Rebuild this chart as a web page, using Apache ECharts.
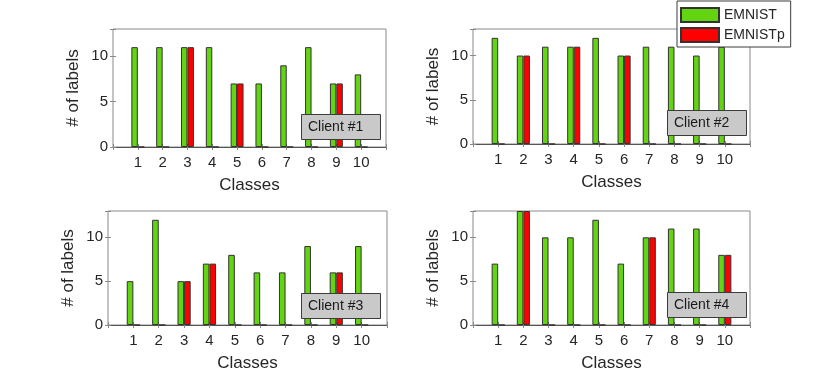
<!DOCTYPE html>
<html>
<head>
<meta charset="utf-8">
<script src="https://cdn.jsdelivr.net/npm/echarts@6/dist/echarts.min.js"></script>
<style>
  html, body { margin: 0; padding: 0; background: #fff; }
  #main { width: 830px; height: 385px; }
</style>
</head>
<body>
<div id="main"></div>
<script>
// data
var classes = [1, 2, 3, 4, 5, 6, 7, 8, 9, 10];
var clientNames = ["Client #1", "Client #2", "Client #3", "Client #4"];
var emnist1 = [11, 11, 11, 11, 7, 7, 9, 11, 7, 8];
var emnistp1 = [0, 0, 11, 0, 7, 0, 0, 0, 7, 0];
var emnist2 = [12, 10, 11, 11, 12, 10, 11, 11, 10, 11];
var emnistp2 = [0, 10, 0, 11, 0, 10, 0, 0, 0, 0];
var emnist3 = [5, 12, 5, 7, 8, 6, 6, 9, 6, 9];
var emnistp3 = [0, 0, 5, 7, 0, 0, 0, 0, 6, 0];
var emnist4 = [7, 13, 10, 10, 12, 7, 10, 11, 11, 8];
var emnistp4 = [0, 13, 0, 0, 0, 0, 10, 0, 0, 8];
var yTicks = [0, 5, 10];

var emnistAll = [emnist1, emnist2, emnist3, emnist4];
var emnistpAll = [emnistp1, emnistp2, emnistp3, emnistp4];

var myChart = echarts.init(document.getElementById("main"));

var textColor = "#262626";
var boxColor = "#8a8a8a";
var font = "Liberation Sans, Arial, Helvetica, sans-serif";

// grid boxes (left, top, right, bottom in px)
var boxes = [
  { left: 113, top: 29, right: 386, bottom: 147 },
  { left: 473, top: 29, right: 750, bottom: 144 },
  { left: 108, top: 211, right: 387, bottom: 325 },
  { left: 473, top: 211, right: 750, bottom: 325 }
];
// "Client #n" boxes
var tags = [
  { left: 301, top: 114 },
  { left: 667, top: 110 },
  { left: 301, top: 293 },
  { left: 667, top: 292 }
];

var grids = [], xAxes = [], yAxes = [], series = [], titles = [];

boxes.forEach(function(b, i) {
  grids.push({
    left: b.left,
    top: b.top,
    width: b.right - b.left,
    height: b.bottom - b.top,
    show: true,
    borderColor: boxColor,
    borderWidth: 1,
    backgroundColor: "transparent"
  });
  // bottom x axis with labels
  xAxes.push({
    gridIndex: i,
    type: "value",
    min: 0,
    max: 11,
    interval: 1,
    position: "bottom",
    name: "Classes",
    nameLocation: "middle",
    nameGap: 30,
    nameTextStyle: { color: textColor, fontSize: 17, fontFamily: font },
    axisLine: { show: true, onZero: false, lineStyle: { color: "#555" } },
    axisTick: { inside: true, length: 3, lineStyle: { color: boxColor } },
    axisLabel: {
      color: textColor,
      fontSize: 15,
      fontFamily: font,
      margin: 8,
      formatter: function(v) {
        return classes.indexOf(v) >= 0 ? String(v) : "";
      }
    },
    splitLine: { show: false }
  });
  // top x axis, ticks only
  xAxes.push({
    gridIndex: i,
    type: "value",
    min: 0,
    max: 11,
    interval: 1,
    position: "top",
    axisLine: { show: false },
    axisTick: { inside: true, length: 3, lineStyle: { color: boxColor } },
    axisLabel: { show: false },
    splitLine: { show: false }
  });
  yAxes.push({
    gridIndex: i,
    type: "value",
    min: 0,
    max: 13,
    interval: 5,
    position: "left",
    name: "# of labels",
    nameLocation: "middle",
    nameGap: 31,
    nameTextStyle: { color: textColor, fontSize: 17, fontFamily: font },
    axisLine: { show: false },
    axisTick: { inside: true, length: 3, lineStyle: { color: boxColor } },
    axisLabel: {
      color: textColor,
      fontSize: 15,
      fontFamily: font,
      margin: 5,
      formatter: function(v) {
        return yTicks.indexOf(v) >= 0 ? String(v) : "";
      }
    },
    splitLine: { show: false }
  });
  yAxes.push({
    gridIndex: i,
    type: "value",
    min: 0,
    max: 13,
    interval: 5,
    position: "right",
    axisLine: { show: false },
    axisTick: { inside: true, length: 3, lineStyle: { color: boxColor } },
    axisLabel: { show: false },
    splitLine: { show: false }
  });

  series.push({
    name: "EMNIST",
    type: "bar",
    xAxisIndex: i * 2,
    yAxisIndex: i * 2,
    barWidth: "26%",
    barGap: "0%",
    itemStyle: { color: "#63d412", borderColor: "#333", borderWidth: 1 },
    data: classes.map(function(c, k) { return [c, emnistAll[i][k]]; })
  });
  series.push({
    name: "EMNISTp",
    type: "bar",
    xAxisIndex: i * 2,
    yAxisIndex: i * 2,
    barWidth: "26%",
    barGap: "0%",
    itemStyle: { color: "#ff0000", borderColor: "#333", borderWidth: 1 },
    data: classes.map(function(c, k) { return [c, emnistpAll[i][k]]; })
  });

  titles.push({
    text: clientNames[i],
    left: tags[i].left,
    top: tags[i].top,
    padding: [6, 17, 6, 7],
    backgroundColor: "#c9c9c9",
    borderColor: "#3c3c3c",
    borderWidth: 1,
    textStyle: { color: "#1a1a1a", fontSize: 14, fontWeight: "normal", fontFamily: font }
  });
});

myChart.setOption({
  animation: false,
  title: titles,
  legend: {
    data: ["EMNIST", "EMNISTp"],
    orient: "vertical",
    left: 677,
    top: 1,
    padding: [6, 6, 4, 3],
    itemGap: 4,
    itemWidth: 38,
    itemHeight: 14,
    icon: "rect",
    backgroundColor: "#fff",
    borderColor: "#3c3c3c",
    borderWidth: 1,
    textStyle: { color: textColor, fontSize: 14, fontFamily: font },
    z: 10
  },
  grid: grids,
  xAxis: xAxes,
  yAxis: yAxes,
  series: series
});
</script>
</body>
</html>
